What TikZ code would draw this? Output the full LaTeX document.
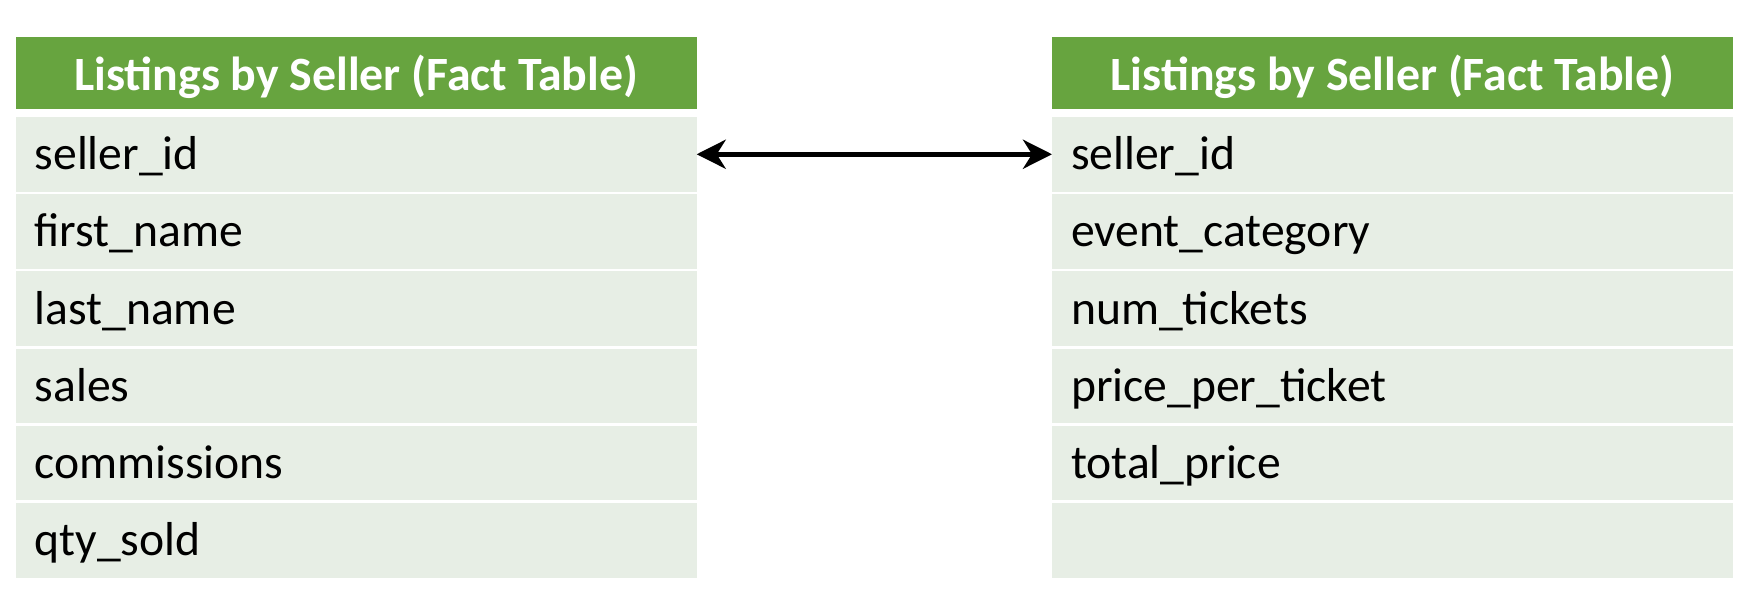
\documentclass[tikz,border=0pt]{standalone}
\usepackage{fontspec}
\setmainfont{Carlito}
\usetikzlibrary{positioning,arrows.meta}
\definecolor{factgreen}{HTML}{67A43F}
\definecolor{rowgray}{HTML}{E7EEE5}

\begin{document}
\begin{tikzpicture}[node distance=0.027cm,
		header/.style={fill=factgreen, text=white, font=\fontsize{13.6}{16}\selectfont\bfseries,
			minimum width=6.81cm, minimum height=0.72cm, inner sep=0pt, outer sep=0pt,
			text height=12.8pt, text depth=2.9pt},
		field/.style={fill=rowgray, font=\fontsize{13.55}{16}\selectfont,
			minimum height=0.745cm, text width=6.43cm, inner xsep=0.19cm, inner ysep=0pt,
			outer sep=0pt, align=left, text height=12.1pt, text depth=3.3pt},
		link/.style={{Stealth[length=0.29cm,width=0.29cm,inset=0.09cm]}-{Stealth[length=0.29cm,width=0.29cm,inset=0.09cm]},
			line width=0.047cm}]
		\useasboundingbox (0,0) rectangle (17.59,-6.00);
		% left table
		\node[header, anchor=north west] (lhead) at (0.157,-0.37) {Listings by Seller (Fact Table)};
		\node[field, below=0.08cm of lhead] (lrow1) {seller\_id};
		\node[field, below=of lrow1] (lrow2) {first\_name};
		\node[field, below=of lrow2] (lrow3) {last\_name};
		\node[field, below=of lrow3] (lrow4) {sales};
		\node[field, below=of lrow4] (lrow5) {commissions};
		\node[field, below=of lrow5] (lrow6) {qty\_sold};
		% right table
		\node[header, anchor=north west] (rhead) at (10.52,-0.37) {Listings by Seller (Fact Table)};
		\node[field, below=0.08cm of rhead] (rrow1) {seller\_id};
		\node[field, below=of rrow1] (rrow2) {event\_category};
		\node[field, below=of rrow2] (rrow3) {num\_tickets};
		\node[field, below=of rrow3] (rrow4) {price\_per\_ticket};
		\node[field, below=of rrow4] (rrow5) {total\_price};
		\node[field, below=of rrow5] (rrow6) {};
		% join on seller_id
		\draw[link] (lrow1.east) -- (rrow1.west);
\end{tikzpicture}
\end{document}
